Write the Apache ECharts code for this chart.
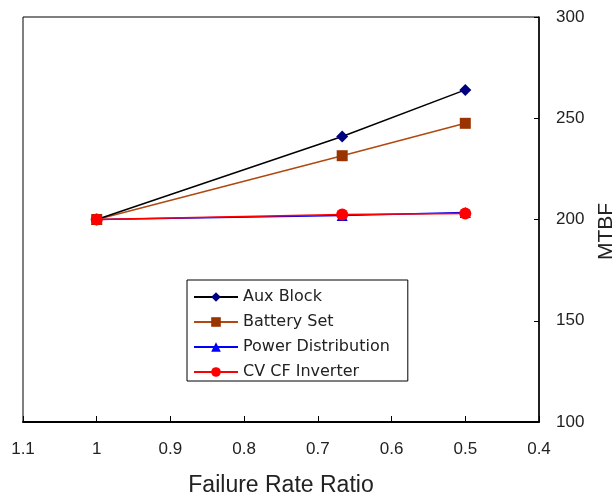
<!DOCTYPE html>
<html><head><meta charset="utf-8">
<script src="https://cdn.jsdelivr.net/npm/echarts@6/dist/echarts.min.js"></script>
<style>html,body{margin:0;padding:0;background:#fff}#c{width:614px;height:497px}</style>
</head><body><div id="c"></div>
<script>
const xValues = [1, 0.667, 0.5];
const auxBlock = [200, 241, 264];
const batterySet = [200, 231.5, 247.5];
const powerDistribution = [200, 202, 203.5];
const cvcfInverter = [200, 202.5, 203];
const seriesNames = ['Aux Block', 'Battery Set', 'Power Distribution', 'CV CF Inverter'];

const pairs = arr => xValues.map((x, i) => [x, arr[i]]);
const font = 'Liberation Sans';
const chart = echarts.init(document.getElementById('c'));
chart.setOption({
  animation: false,
  backgroundColor: '#fff',
  grid: {left: 23, right: 75, top: 17, bottom: 75, outerBoundsMode: 'none', containLabel: false,
    show: true, borderColor: '#000', borderWidth: 1},
  legend: {
    left: 187, top: 280, orient: 'vertical', itemGap: 9, itemWidth: 44, itemHeight: 12,
    padding: [9, 18, 1, 6], borderColor: '#000', borderWidth: 1, borderRadius: 0, backgroundColor: '#fff',
    textStyle: {fontFamily: 'DejaVu Sans', fontSize: 16, lineHeight: 16, color: '#222', padding: [0, 0, 0, 0]},
    data: seriesNames
  },
  xAxis: {
    type: 'value', min: 0.4, max: 1.1, interval: 0.1, inverse: true,
    name: 'Failure Rate Ratio', nameLocation: 'middle', nameGap: 52,
    nameTextStyle: {fontFamily: font, fontSize: 23, color: '#222'},
    axisLine: {lineStyle: {color: '#000', width: 2}},
    axisTick: {inside: true, length: 6, lineStyle: {color: '#000'}},
    axisLabel: {fontFamily: font, fontSize: 17, color: '#222', margin: 19,
      formatter: v => String(Math.round(v * 10) / 10)},
    splitLine: {show: false}
  },
  yAxis: {
    type: 'value', min: 100, max: 300, interval: 50, position: 'right',
    name: 'MTBF', nameLocation: 'middle', nameGap: 44, nameRotate: 90,
    nameTextStyle: {fontFamily: font, fontSize: 21, color: '#222', padding: [0, 24, 0, 0]},
    axisLine: {show: true, lineStyle: {color: '#000', width: 1.5}},
    axisTick: {show: true, inside: true, length: 5, lineStyle: {color: '#000'}},
    axisLabel: {fontFamily: font, fontSize: 17, color: '#222', margin: 17},
    splitLine: {show: false}
  },
  series: [
    {name: seriesNames[0], type: 'line', data: pairs(auxBlock), symbol: 'diamond', symbolSize: 12,
      lineStyle: {color: '#000', width: 1.5}, itemStyle: {color: '#000080'}, z: 4},
    {name: seriesNames[1], type: 'line', data: pairs(batterySet), symbol: 'rect', symbolSize: 11,
      lineStyle: {color: '#b0480f', width: 1.5}, itemStyle: {color: '#993300'}, z: 3},
    {name: seriesNames[2], type: 'line', data: pairs(powerDistribution), symbol: 'triangle', symbolSize: 11,
      lineStyle: {color: '#0000ff', width: 1.5}, itemStyle: {color: '#0000ff'}, z: 2},
    {name: seriesNames[3], type: 'line', data: pairs(cvcfInverter), symbol: 'circle', symbolSize: 12,
      lineStyle: {color: '#ff0000', width: 1.5}, itemStyle: {color: '#ff0000'}, z: 5}
  ]
});
</script></body></html>
